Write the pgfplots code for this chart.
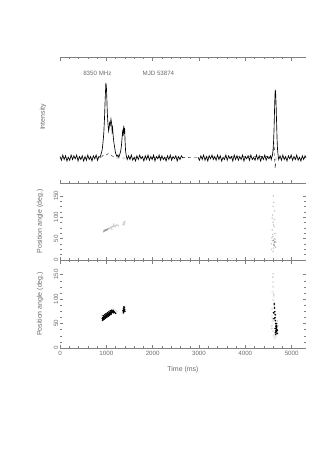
\documentclass[border=0pt]{standalone}
\usepackage{pgfplots}
\pgfplotsset{compat=1.18}
\usepackage{pgfplotstable}
\usepackage{fontspec}
\setmainfont{Liberation Sans}
\definecolor{axgray}{gray}{0.5}
\definecolor{txtgray}{gray}{0.42}

% total intensity profile (ms, normalised)
\pgfplotstableread{
t I
0 0.02
30 -0.03
60 0.04
90 -0.02
120 0.03
150 -0.04
180 0.01
210 -0.03
240 0.04
270 -0.02
300 0.03
330 -0.01
360 0.04
390 -0.04
420 0.02
450 -0.02
480 0.03
510 -0.04
540 0.02
570 -0.03
600 0.04
630 -0.02
660 0.02
690 -0.04
720 0.03
750 -0.01
780 0.04
810 -0.03
840 0.02
865 0.01
885 0.05
900 0.08
915 0.13
930 0.22
945 0.33
960 0.52
975 0.78
990 1.00
1000 0.96
1010 0.82
1020 0.62
1030 0.50
1040 0.42
1050 0.36
1060 0.40
1070 0.47
1085 0.44
1100 0.52
1115 0.46
1125 0.36
1135 0.40
1150 0.28
1165 0.20
1180 0.14
1195 0.08
1210 0.05
1230 0.02
1250 0.04
1270 0.01
1290 0.05
1310 0.09
1325 0.16
1340 0.27
1355 0.38
1365 0.30
1375 0.43
1385 0.36
1395 0.40
1405 0.22
1415 0.10
1430 0.03
1450 -0.02
1480 0.03
1510 -0.02
1540 0.04
1570 -0.03
1600 0.01
1630 -0.04
1660 0.03
1690 -0.02
1720 0.04
1750 -0.01
1780 0.02
1810 -0.04
1840 0.03
1870 -0.02
1900 0.04
1930 -0.03
1960 0.02
1990 -0.02
2020 0.04
2050 -0.04
2080 0.02
2110 -0.01
2140 0.04
2170 -0.03
2200 0.03
2230 -0.02
2260 0.01
2290 -0.04
2320 0.03
2350 -0.02
2380 0.04
2410 -0.03
2440 0.02
2470 -0.01
2500 0.03
2530 -0.04
2560 0.02
2590 -0.02
2620 0.03
2650 0.00
2700 nan
2980 0.01
3010 -0.03
3040 0.03
3070 -0.02
3100 0.04
3130 -0.03
3160 0.02
3190 -0.04
3220 0.03
3250 -0.01
3280 0.04
3310 -0.02
3340 0.02
3370 -0.03
3400 0.04
3430 -0.02
3460 0.03
3490 -0.04
3520 0.01
3550 -0.02
3580 0.04
3610 -0.03
3640 0.03
3670 -0.01
3700 0.02
3730 -0.04
3760 0.04
3790 -0.02
3820 0.03
3850 -0.03
3880 0.02
3910 -0.02
3940 0.04
3970 -0.04
4000 0.02
4030 -0.01
4060 0.03
4090 -0.03
4120 0.04
4150 -0.02
4180 0.01
4210 -0.03
4240 0.04
4270 -0.02
4300 0.03
4330 -0.04
4360 0.02
4390 -0.02
4420 0.04
4450 -0.03
4480 0.02
4510 -0.01
4540 0.03
4560 -0.02
4575 0.02
4590 0.06
4600 0.12
4610 0.22
4620 0.38
4630 0.62
4640 0.84
4648 0.91
4655 0.86
4665 0.70
4675 0.48
4685 0.26
4695 0.12
4705 0.05
4720 -0.02
4750 0.03
4780 -0.03
4810 0.04
4840 -0.02
4870 0.02
4900 -0.04
4930 0.03
4960 -0.01
4990 0.04
5020 -0.03
5050 0.02
5080 -0.02
5110 0.04
5140 -0.03
5170 0.01
5200 -0.04
5230 0.03
5260 -0.02
5290 0.03
5310 0.00
}\profI

% linear polarisation (dashed)
\pgfplotstableread{
t L
0 0
880 0
920 0.03
960 0.05
1000 0.04
1040 0.06
1080 0.04
1120 0.03
1180 0.01
1220 0
4580 0.02
4600 0.08
4615 0.20
4625 0.15
4635 -0.05
4645 -0.14
4655 -0.08
4665 0.02
4690 0
5310 0
}\profL

\tikzset{lbl/.style={font=\fontsize{7}{8}\selectfont, text=txtgray}}

\pgfplotsset{
  pulsar/.style={
    scale only axis, width=246bp, xmin=0, xmax=5310,
    separate axis lines,
    every outer x axis line/.append style={axgray, line width=0.5bp},
    every outer y axis line/.append style={draw=none},
    xtick={0,1000,...,5000}, minor x tick num=4,
    major tick length=3.5bp, minor tick length=2bp,
    tick style={axgray, line width=0.4bp},
    tick label style={font=\fontsize{6.2}{7}\selectfont, text=txtgray},
    /pgf/number format/assume math mode=true,
    /pgf/number format/1000 sep={},
    clip=false,
  },
  pa/.style={pulsar, ymin=0, ymax=180, ytick={0,50,100,150},
    minor y tick num=3, ytick pos=both,
    yticklabel style={rotate=90, anchor=south, inner sep=1.5bp},
    ylabel={Position angle (deg.)},
    every axis y label/.style={at={(axis description cs:-0.081,0.5)},
      rotate=90, anchor=center, lbl},
  },
  dark/.style={only marks, mark=*, mark size=0.6bp, black},
  faint/.style={only marks, mark=*, mark size=0.5bp, gray!45},
  ring/.style={only marks, mark=o, mark size=1.1bp, gray!35,
    mark options={line width=0.2bp}},
}

\begin{document}
\begin{tikzpicture}
\path[use as bounding box] (0,0) rectangle (327bp,-462bp);

% intensity profile
\begin{axis}[pulsar, at={(60bp,-183bp)}, anchor=south west, height=126bp,
  ymin=-0.333, ymax=1.347, ytick=\empty, xticklabels={},
  xtick pos=both,
  ylabel={Intensity},
  every axis y label/.style={at={(axis description cs:-0.069,0.524)},
    rotate=90, anchor=center, lbl},
  unbounded coords=jump]
  \addplot[black, line width=0.65bp] table[x=t, y=I] {\profI};
  \addplot[black, dashed, line width=0.35bp] table[x=t, y=L] {\profL};
  \node[font=\fontsize{6.2}{7}\selectfont, text=txtgray]
    at (axis description cs:0.152,0.873) {8350 MHz};
  \node[font=\fontsize{6.2}{7}\selectfont, text=txtgray]
    at (axis description cs:0.40,0.873) {MJD 53874};
\end{axis}

% PA, faint points
\begin{axis}[pa, at={(60bp,-260bp)}, anchor=south west, height=77bp,
  xticklabels={}, xtick pos=left]
  \addplot[faint] coordinates {
    (940,66)(955,68)(965,67)(975,70)(985,69)(995,71)(1005,70)(1015,72)
    (1025,71)(1040,73)(1055,74)(1070,73)(1085,75)(1100,77)(1115,76)
    (1130,78)(1150,79)(1170,80)(1190,78)(1210,81)(1230,82)(1260,80)
    (1360,84)(1375,88)(1390,86)(1380,82)(1400,90)(1120,72)(1160,84)
    (4600,20)(4610,28)(4615,35)(4620,40)(4585,45)(4625,50)(4595,55)
    (4640,62)(4580,70)(4625,78)(4600,88)(4630,95)(4590,105)(4630,115)
    (4600,125)(4615,135)(4605,150)(4635,32)(4565,38)(4650,48)
    (4570,25)(4655,30)(4590,60)(4660,42)(4575,52)(4610,82)(4580,98)
  };
  \addplot[only marks, mark=*, mark size=0.55bp, gray!75] coordinates {
    (950,68)(965,69)(980,70)(995,70)(1010,71)(1025,72)
    (4620,35)(4635,42)(4610,46)
  };
\end{axis}

% PA, significant points
\begin{axis}[pa, at={(60bp,-348bp)}, anchor=south west, height=88bp,
  xtick pos=both, xlabel={Time (ms)},
  every axis x label/.style={at={(axis description cs:0.5,-0.25)},
    anchor=center, lbl}]
  \addplot[ring] coordinates {
    (900,55)(895,62)(905,68)(930,58)(960,60)(1130,80)(1160,78)(1200,76)
    (1220,74)(1350,72)(1410,84)
    (4640,20)(4610,25)(4600,35)(4635,28)(4660,24)(4590,55)(4580,65)
    (4700,45)(4600,98)(4615,106)(4590,115)(4605,125)(4600,135)
    (4570,45)(4580,80)(4620,88)(4700,30)
  };
  \addplot[faint] coordinates {
    (4595,145)(4600,152)(4615,110)(4620,92)(4625,85)(4630,70)
    (4585,60)(4575,40)(4690,55)
  };
  \addplot[dark] coordinates {
    (915,60)(925,62)(930,58)(940,63)(945,61)(955,64)(960,62)(970,65)
    (975,63)(985,66)(990,64)(1000,67)(1005,65)(1015,68)(1020,66)(1030,69)
    (1035,67)(1045,70)(1050,68)(1060,71)(1065,69)(1075,72)(1080,70)
    (1090,73)(1095,71)(1105,74)(1110,72)(1120,73)(1130,75)(1140,74)
    (1150,72)(1165,74)(1180,73)(1200,71)
    (935,66)(965,68)(995,70)(1025,72)(1055,74)(1085,76)(1115,77)(1145,77)
    (920,57)(950,59)(980,61)(1010,63)(1040,65)(1070,67)(1100,69)
    (1360,76)(1370,80)(1375,74)(1380,78)(1385,82)(1390,77)(1395,79)(1400,75)
    (1380,84)(1370,72)
    (4650,32)(4660,36)(4665,40)(4670,34)(4675,42)(4680,38)(4685,30)
    (4670,46)(4660,44)(4655,50)(4650,56)(4640,62)(4645,68)(4635,74)
    (4630,82)(4625,90)(4690,36)(4655,28)(4680,45)(4665,33)(4645,40)
    (4675,50)(4620,60)(4610,72)
  };
\end{axis}
\end{tikzpicture}
\end{document}
